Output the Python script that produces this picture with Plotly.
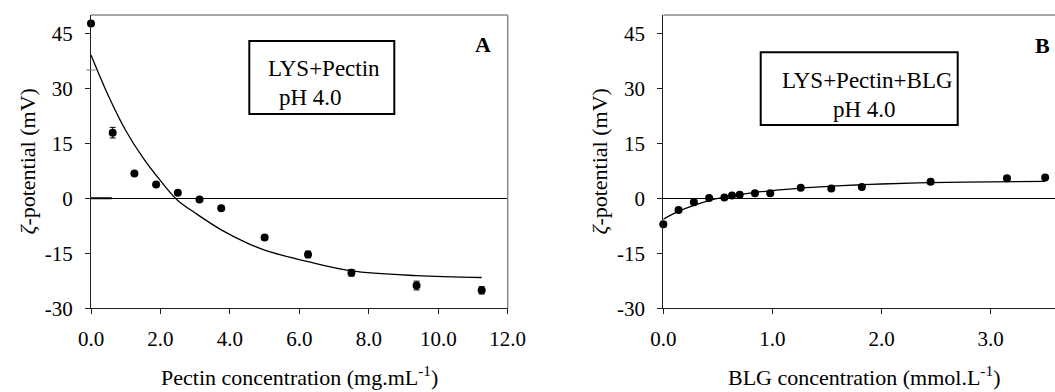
import plotly.graph_objects as go

W, H = 1055, 392
FONT = "'Liberation Serif', 'Times New Roman', 'DejaVu Serif', serif"

# Panel A: LYS titrated with pectin (pH 4.0)
pectin_conc = [0.0, 0.625, 1.25, 1.875, 2.5, 3.125, 3.75, 5.0, 6.25, 7.5, 9.375, 11.25]
pectin_zeta = [47.7, 17.9, 6.8, 3.8, 1.5, -0.3, -2.7, -10.7, -15.3, -20.3, -23.8, -25.1]
pectin_err = [0.4, 1.45, 0.5, 0.5, 0.4, 0.4, 0.5, 0.6, 0.9, 0.9, 1.2, 1.0]
pectin_fit_x = [0.0, 0.5, 1.0, 1.5, 2.0, 2.5, 3.0, 3.75, 4.5, 5.0, 6.25, 7.5, 9.375, 11.25]
pectin_fit_y = [39.1, 28.0, 18.5, 11.0, 4.8, -0.6, -4.0, -8.6, -12.2, -14.1, -17.3, -19.8, -21.1, -21.6]

# Panel B: LYS+pectin complex titrated with BLG (pH 4.0)
blg_conc = [0.0, 0.14, 0.28, 0.42, 0.56, 0.63, 0.70, 0.84, 0.98, 1.26, 1.54, 1.82, 2.45, 3.15, 3.5]
blg_zeta = [-7.1, -3.2, -1.1, 0.1, 0.2, 0.8, 1.0, 1.4, 1.4, 2.9, 2.7, 3.1, 4.5, 5.5, 5.7]
blg_err = [0.7, 0.5, 0.5, 0.4, 0.4, 0.4, 0.4, 0.4, 0.5, 0.4, 0.4, 0.4, 0.6, 0.7, 0.4]
blg_fit_x = [0.0, 0.14, 0.28, 0.42, 0.56, 0.70, 0.84, 1.0, 1.26, 1.54, 1.82, 2.0, 2.45, 3.0, 3.5]
blg_fit_y = [-5.7, -3.5, -1.9, -0.6, 0.3, 1.0, 1.6, 2.1, 2.8, 3.3, 3.7, 3.9, 4.3, 4.5, 4.6]

y_ticks = [-30, -15, 0, 15, 30, 45]
y_tick_text = ["-30", "-15", "0", "15", "30", "45"]
pectin_ticks = [0, 2, 4, 6, 8, 10, 12]
blg_ticks = [0, 1, 2, 3]


def px(xp):
    return xp / W


def py(yp):
    return 1 - yp / H


fig = go.Figure()

for xs, ys, es, fx, fy, xa, ya in [
    (pectin_conc, pectin_zeta, pectin_err, pectin_fit_x, pectin_fit_y, "x", "y"),
    (blg_conc, blg_zeta, blg_err, blg_fit_x, blg_fit_y, "x2", "y2"),
]:
    fig.add_trace(go.Scatter(
        x=fx, y=fy, mode="lines", line=dict(color="black", width=1.3, shape="spline"),
        xaxis=xa, yaxis=ya, showlegend=False, hoverinfo="skip"))
    fig.add_trace(go.Scatter(
        x=xs, y=ys, mode="markers",
        marker=dict(color="black", size=8),
        error_y=dict(type="data", array=es, visible=True, color="black", thickness=1, width=3),
        xaxis=xa, yaxis=ya, showlegend=False, cliponaxis=False))

axis_common = dict(
    showgrid=False, showline=True, linecolor="#202020", linewidth=1,
    ticks="outside", ticklen=5, tickcolor="#202020", automargin=False,
    tickfont=dict(family=FONT, size=21, color="black"), mirror=False,
)

fig.update_layout(
    width=W, height=H,
    margin=dict(l=0, r=0, t=0, b=0),
    paper_bgcolor="white", plot_bgcolor="white",
    showlegend=False,
    font=dict(family=FONT, color="black"),
    xaxis=dict(axis_common, domain=[px(91), px(507.7)], range=[0, 12],
               tickvals=pectin_ticks, tickformat=".1f", anchor="y",
               zeroline=False, ticklabelstandoff=6),
    yaxis=dict(axis_common, domain=[py(308.3), py(15)], range=[-30, 50],
               tickvals=y_ticks, ticktext=y_tick_text, anchor="x", zeroline=True,
               zerolinecolor="black", zerolinewidth=1, ticklabelstandoff=8),
    xaxis2=dict(axis_common, domain=[px(663.3), 1.0], range=[0, (W - 663.3) / 109.1],
                tickvals=blg_ticks, tickformat=".1f", anchor="y2",
                zeroline=False, ticklabelstandoff=6),
    yaxis2=dict(axis_common, domain=[py(308.3), py(15)], range=[-30, 50],
                tickvals=y_ticks, ticktext=y_tick_text, anchor="x2", zeroline=True,
                zerolinecolor="black", zerolinewidth=1, ticklabelstandoff=8),
)

frame = "#8a8a8a"
shapes = [
    # upper and right frame of panel A
    dict(type="line", xref="x domain", yref="y domain", x0=0, x1=1, y0=1, y1=1,
         line=dict(color=frame, width=1.5)),
    dict(type="line", xref="x domain", yref="y domain", x0=1, x1=1, y0=0, y1=1,
         line=dict(color=frame, width=1.5)),
    # upper frame of panel B
    dict(type="line", xref="x2 domain", yref="y2 domain", x0=0, x1=1, y0=1, y1=1,
         line=dict(color=frame, width=1.5)),
    # short darker stub on the zero line near the origin of panel A
    dict(type="line", xref="x", yref="y", x0=0, x1=0.6, y0=0, y1=0,
         line=dict(color="black", width=2)),
    # small tick on the left axis of panel A
    dict(type="line", xref="paper", yref="y", x0=px(86.5), x1=px(95.5), y0=35, y1=35,
         line=dict(color="#777777", width=1)),
    # label boxes
    dict(type="rect", xref="paper", yref="paper",
         x0=px(249.3), x1=px(394.3), y0=py(114), y1=py(41),
         line=dict(color="black", width=2), fillcolor="rgba(0,0,0,0)"),
    dict(type="rect", xref="paper", yref="paper",
         x0=px(760.7), x1=px(957.7), y0=py(125), y1=py(52.3),
         line=dict(color="black", width=2), fillcolor="rgba(0,0,0,0)"),
]
fig.update_layout(shapes=shapes)


def note(text, x, y, size=23, xanchor="center", textangle=0, bold=False):
    if bold:
        text = "<b>" + text + "</b>"
    fig.add_annotation(
        text=text, xref="paper", yref="paper", x=px(x), y=py(y),
        xanchor=xanchor, yanchor="middle", showarrow=False, textangle=textangle,
        font=dict(family=FONT, size=size, color="black"))


note("LYS+Pectin", 266, 69, xanchor="left")
note("pH 4.0", 277.3, 97.5, xanchor="left")
note("LYS+Pectin+BLG", 867.2, 81)
note("pH 4.0", 864.5, 110)
note("A", 483.3, 45, size=22, bold=True)
note("B", 1042.5, 46, size=22, bold=True)

note("Pectin concentration (mg.mL<sup>-1</sup>)", 299.3, 376, size=22)
note("BLG concentration (mmol.L<sup>-1</sup>)", 864, 376, size=22)
note("<i>ζ</i>-potential (mV)", 27, 161.5, size=22, textangle=-90)
note("<i>ζ</i>-potential (mV)", 599, 161.5, size=22, textangle=-90)

fig.write_html("out.html")
